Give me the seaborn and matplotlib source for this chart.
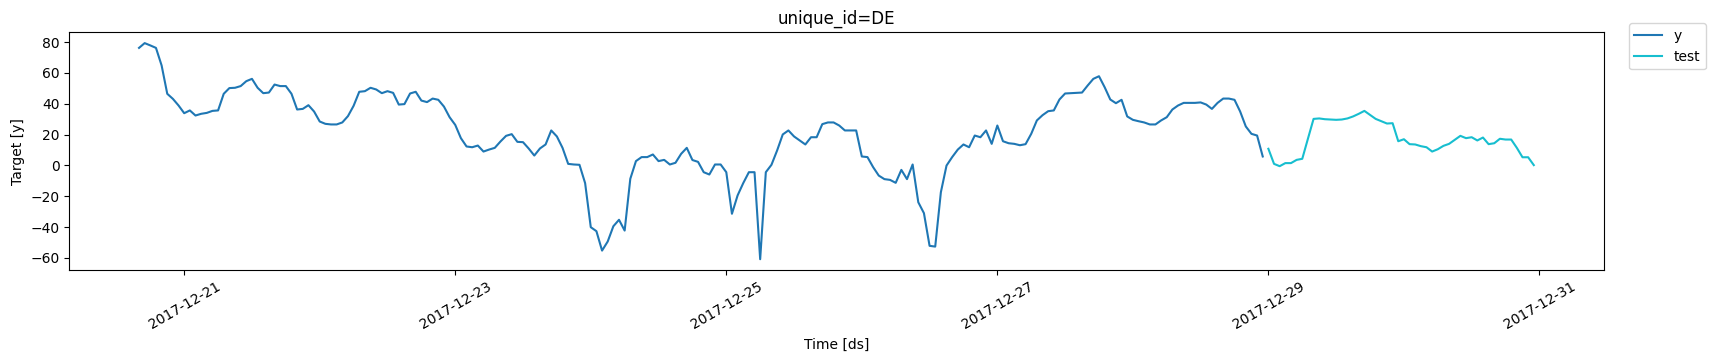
import pandas as pd
import matplotlib
matplotlib.use("Agg")
import matplotlib.pyplot as plt
import matplotlib.dates as mdates
import seaborn as sns

# hourly values
y_start = "2017-12-20 16:00"
y_values = [
    76.3, 79.4, 77.9, 76.3, 64.9, 46.5, 43.2, 38.9, 33.9, 35.7, 32.4, 33.5, 34.1,
    35.4, 35.7, 46.5, 50.2, 50.4, 51.5, 54.7, 56.2, 50.4, 46.9, 47.3, 52.5,
    51.5, 51.5, 46.5, 36.3, 36.7, 39.1, 35.0, 28.5, 27.0, 26.6, 26.6, 27.9,
    32.0, 38.7, 47.8, 48.2, 50.4, 49.3, 46.9, 48.2, 47.1, 39.5, 39.8, 46.7, 47.8,
    42.1, 41.1, 43.4, 42.6, 38.2, 31.3, 26.3, 17.7, 12.3, 11.8, 12.9, 9.0, 10.3,
    11.4, 15.5, 19.2, 20.3, 15.3, 15.1, 11.0, 6.4, 11.0, 13.6, 22.7, 18.8,
    11.4, 1.0, 0.6, 0.4, -11.5, -40.1, -42.7, -55.3, -49.4, -39.5, -35.3, -42.3,
    -8.7, 2.8, 5.4, 5.4, 7.1, 2.8, 3.6, 0.6, 1.7, 7.5, 11.4, 3.5, 2.3,
    -4.4, -5.9, 0.6, 0.6, -4.4, -31.4, -19.5, -11.5, -4.4, -4.4, -60.9, -4.4, 0.4,
    9.7, 20.1, 22.7, 18.8, 16.2, 13.6, 18.3, 18.3, 26.8, 27.9, 27.9, 25.9,
    22.7, 22.7, 22.7, 5.8, 5.4, -1.1, -6.6, -8.9, -9.4, -11.3, -2.9, -8.9, 0.6,
    -23.9, -31.0, -52.2, -52.7, -17.4, -0.1, 5.4, 10.3, 13.6, 11.8, 19.4, 18.3,
    22.7, 14.0, 25.9, 15.7, 14.4, 14.0, 13.1, 13.8, 20.5, 29.2, 32.6, 35.2, 35.7,
    42.8, 46.7, 46.9, 47.1, 47.3, 51.9, 56.2, 57.9, 50.8, 42.8, 40.4, 42.6,
    31.8, 29.6, 28.7, 27.9, 26.6, 26.6, 29.2, 31.3, 36.3, 38.9, 40.6, 40.6, 40.6,
    40.9, 39.5, 36.7, 40.6, 43.4, 43.4, 42.6, 35.0, 25.3, 20.5, 19.4, 5.8,
]

test_start = "2017-12-29 00:00"
test_values = [
    10.8, 1.0, -0.5, 1.5, 1.5, 3.6, 4.3, 17.3, 30.2, 30.5, 30.0, 29.8,
    29.6, 29.8, 30.5, 31.8, 33.5, 35.4, 32.8, 30.2, 28.7, 27.2, 27.4, 15.7,
    17.0, 13.8, 13.6, 12.5, 11.8, 9.0, 10.5, 12.7, 14.0, 16.6, 19.2, 17.7,
    18.3, 16.2, 18.1, 13.8, 14.4, 17.3, 16.8, 16.8, 11.4, 5.3, 5.3, 0.2,
]

tick_dates = ["2017-12-21", "2017-12-23", "2017-12-25",
              "2017-12-27", "2017-12-29", "2017-12-31"]

df_y = pd.DataFrame({
    "ds": pd.date_range(y_start, periods=len(y_values), freq="h"),
    "value": y_values,
    "series": "y",
})
df_test = pd.DataFrame({
    "ds": pd.date_range(test_start, periods=len(test_values), freq="h"),
    "value": test_values,
    "series": "test",
})
df = pd.concat([df_y, df_test], ignore_index=True)

fig = plt.figure(figsize=(17.15, 3.61), dpi=100)
ax = fig.add_axes([0.0404, 0.252, 0.8946, 0.6585])

sns.lineplot(data=df, x="ds", y="value", hue="series",
             palette={"y": "#1f77b4", "test": "#17becf"}, ax=ax)

ax.set_xticks(pd.to_datetime(tick_dates))
ax.xaxis.set_major_formatter(mdates.DateFormatter("%Y-%m-%d"))
plt.setp(ax.get_xticklabels(), rotation=30)

ax.set_title("unique_id=DE", fontsize=12)
ax.set_xlabel("Time [ds]")
ax.set_ylabel("Target [y]")

sns.move_legend(ax, "upper left", bbox_to_anchor=(1.012, 1.067), title=None)

fig.savefig("out.png", dpi=100)
